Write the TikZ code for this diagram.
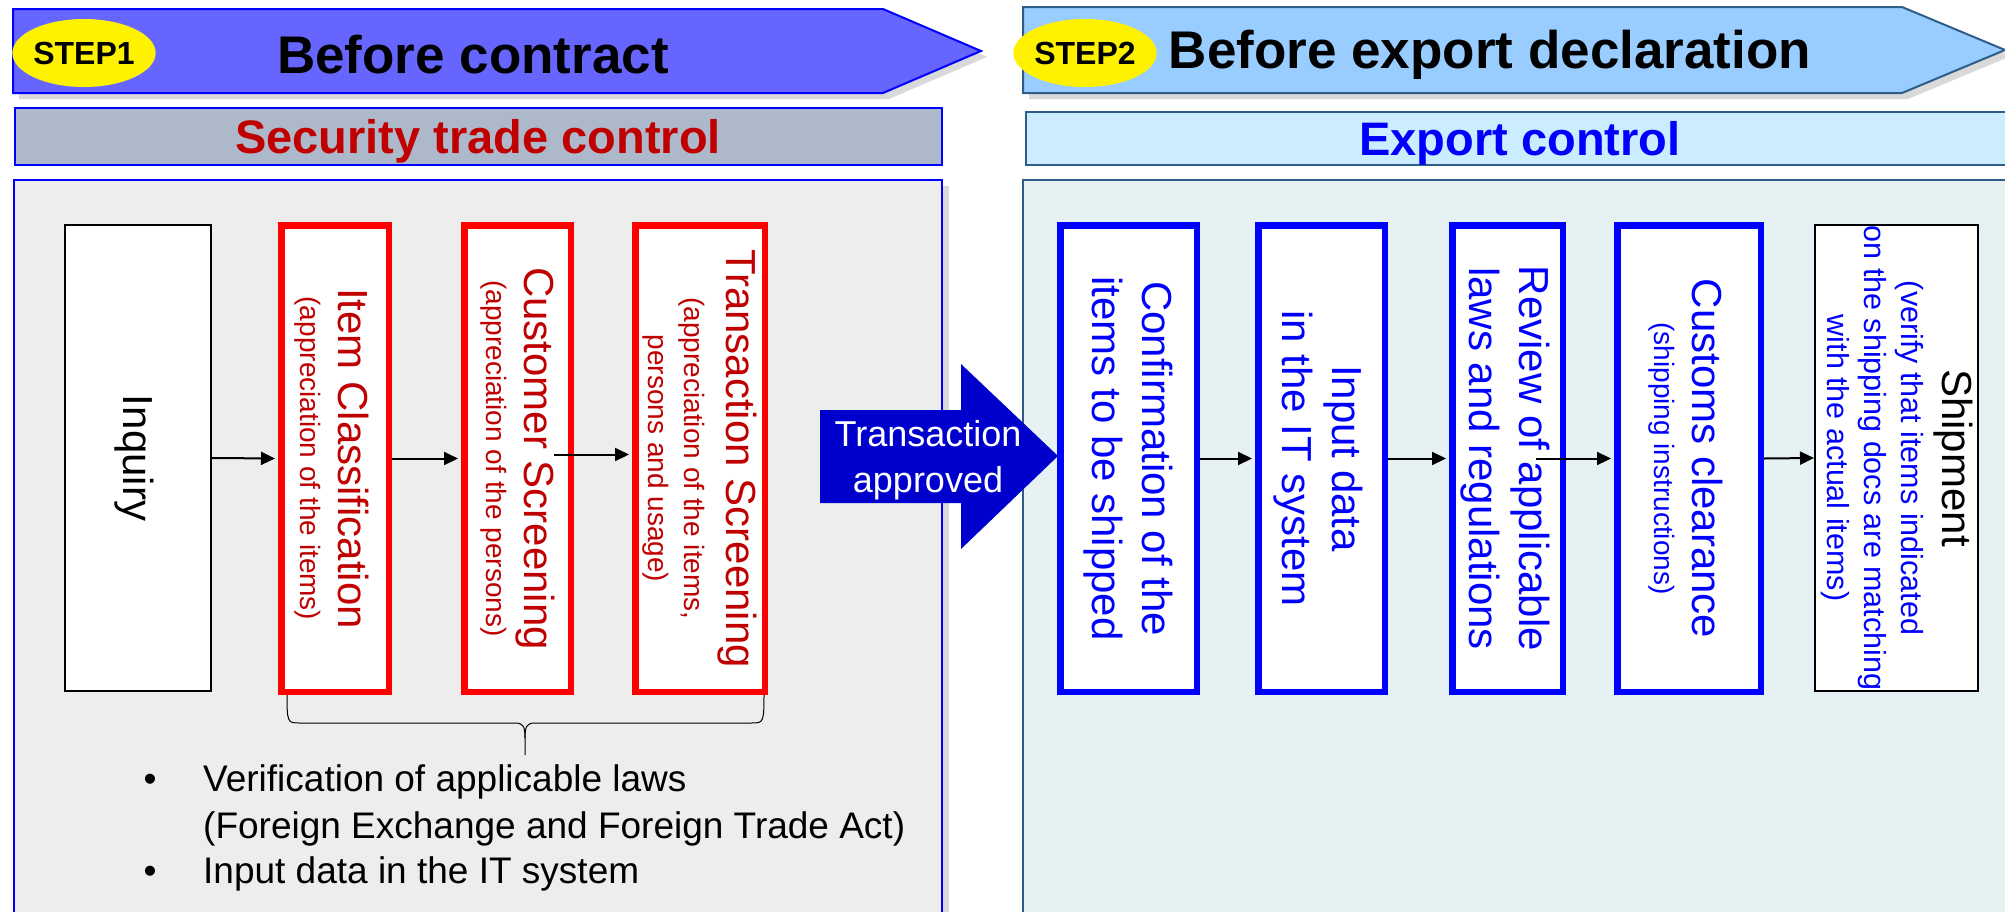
\documentclass[tikz,border=0pt]{standalone}
\usepackage{fontspec}
\setmainfont{Liberation Sans}
\usetikzlibrary{arrows.meta,shapes.geometric}

\definecolor{shadowgray}{HTML}{D9D9D9}
\definecolor{stepone}{HTML}{6666FF}
\definecolor{steptwo}{HTML}{99CCFF}
\definecolor{slate}{HTML}{2F5D8A}
\definecolor{secbar}{HTML}{ADB9CA}
\definecolor{expbar}{HTML}{CCECFF}
\definecolor{leftpanel}{HTML}{EDEDED}
\definecolor{rightpanel}{HTML}{E6F1F4}
\definecolor{boxred}{HTML}{FF0000}
\definecolor{dred}{HTML}{C00000}
\definecolor{boxblue}{HTML}{0000FF}
\definecolor{approve}{HTML}{0000CC}

\newcommand\mainsz{\fontsize{42}{42}\selectfont}
\newcommand\subsz{\fontsize{28}{28}\selectfont}
\newcommand\shipsz{\fontsize{30.5}{30.5}\selectfont}

\tikzset{
  box/.style={draw, fill=white, minimum height=466.5pt, inner sep=0pt, line width=6.5pt},
  redbox/.style={box, draw=boxred},
  bluebox/.style={box, draw=boxblue},
  thinbox/.style={draw=black, fill=white, line width=2pt, minimum height=466pt, inner sep=0pt},
  lbl/.style={rotate=-90, align=center, inner sep=0pt, font=\fontsize{28}{#1}\selectfont},
  flow/.style={draw=black, line width=2pt, -{Triangle[length=14pt,width=13pt]}},
  stepmark/.style={ellipse, fill=yellow, minimum width=104pt, minimum height=68pt,
    inner sep=0pt, font=\fontsize{32}{32}\selectfont\bfseries},
  banner/.style={font=\fontsize{53}{53}\selectfont\bfseries, inner sep=0pt},
  bartext/.style={font=\fontsize{47}{47}\selectfont\bfseries, inner sep=0pt},
  bullettext/.style={anchor=base west, inner sep=0pt, font=\fontsize{37}{46}\selectfont},
  bulletdot/.style={anchor=base, inner sep=0pt, font=\fontsize{37}{46}\selectfont},
}

\begin{document}
\begin{tikzpicture}[x=1pt,y=-1pt]
\useasboundingbox (0,0) rectangle (2005,911);
\clip (0,0) rectangle (2005,911);

% ---- step banners ----
\fill[shadowgray] (19,15) -- (889,15) -- (987,57) -- (889,99) -- (19,99) -- cycle;
\draw[fill=stepone, draw=boxblue, line width=2pt]
  (13,9) -- (883,9) -- (981,51) -- (883,93) -- (13,93) -- cycle;
\fill[shadowgray] (1029,13) -- (1908,13) -- (2011,56) -- (1908,99) -- (1029,99) -- cycle;
\draw[fill=steptwo, draw=slate, line width=2pt]
  (1023,7) -- (1902,7) -- (2005,50) -- (1902,93) -- (1023,93) -- cycle;

\node[stepmark] (s1) at (84,53) {STEP1};
\node[stepmark] (s2) at (1085,53) {STEP2};
\node[banner] (t1) at (473,55) {Before contract};
\node[banner] (t2) at (1490,55) {Before export declaration};

% ---- control bars ----
\draw[fill=secbar, draw=boxblue, line width=2pt] (15,108) rectangle (942,165);
\node[bartext, text=dred] (sec) at (478,141) {Security trade control};
\draw[fill=expbar, draw=slate, line width=2pt] (1026,112) rectangle (2030,165);
\node[bartext, text=boxblue] (exp) at (1520,143) {Export control};

% ---- panels ----
\fill[shadowgray] (20,186) rectangle (949,940);
\draw[fill=leftpanel, draw=boxblue, line width=2pt] (14,180) rectangle (942,940);
\draw[fill=rightpanel, draw=slate, line width=2pt] (1023,180) rectangle (2030,940);

% ---- brace below the three screening steps ----
\draw[line width=1pt]
  (287,690) .. controls (287,723) and (287,723) .. (300,723) -- (515,723)
  .. controls (523,723) and (525,726) .. (525,738) -- (525,755);
\draw[line width=1pt]
  (525,738) .. controls (525,726) and (527,723) .. (535,723) -- (751,723)
  .. controls (764,723) and (764,723) .. (764,690);

% ---- step 1 boxes ----
\node[thinbox, minimum width=146pt] (inq) at (138,458) {};
\node[redbox, minimum width=107.5pt] (item) at (335,458.5) {};
\node[redbox, minimum width=106.5pt] (cust) at (517.5,458.5) {};
\node[redbox, minimum width=129.5pt] (trans) at (700,458.5) {};

\node[lbl=40, font=\mainsz] (inqt) at ([xshift=-4pt]inq.center) {Inquiry};
\node[lbl=38, text=dred] (itemt) at ([xshift=-3pt]item.center)
  {{\mainsz Item Classification}\\{\subsz (appreciation of the items)}};
\node[lbl=38, text=dred] (custt) at (cust.center)
  {{\mainsz Customer Screening}\\{\subsz (appreciation of the persons)}};
\node[lbl=36, text=dred] (transt) at (trans.center)
  {{\mainsz Transaction Screening}\\[6pt]{\subsz (appreciation of the items,}\\{\subsz persons and usage)}};

% ---- step 2 boxes ----
\node[bluebox, minimum width=136.5pt] (conf) at (1128.5,458.5) {};
\node[bluebox, minimum width=126.5pt] (input) at (1321.5,458.5) {};
\node[bluebox, minimum width=110.5pt] (review) at (1507.5,458.5) {};
\node[bluebox, minimum width=143.5pt] (customs) at (1689,458.5) {};
\node[thinbox, minimum width=163pt] (ship) at (1896.5,458) {};

\node[lbl=50, text=boxblue] (conft) at (conf.center)
  {{\mainsz Confirmation of the}\\{\mainsz items to be shipped}};
\node[lbl=50, text=boxblue] (inputt) at ([xshift=-3pt]input.center)
  {{\mainsz Input data}\\{\mainsz in the IT system}};
\node[lbl=50, text=boxblue] (reviewt) at ([xshift=-2pt]review.center)
  {{\mainsz Review of applicable}\\{\mainsz laws and regulations}};
\node[lbl=38, text=boxblue] (customst) at ([xshift=-3pt]customs.center)
  {{\mainsz Customs clearance}\\{\subsz (shipping instructions)}};
\node[lbl=37, text=boxblue] (shipt) at ([xshift=1pt]ship.center)
  {{\mainsz\color{black} Shipment}\\[4pt]{\shipsz (verify that items indicated}\\{\shipsz on the shipping docs are matching}\\{\shipsz with the actual items)}};

% ---- transaction approved arrow ----
\fill[approve] (820,410) -- (961,410) -- (961,364) -- (1058,456) -- (961,549)
  -- (961,503) -- (820,503) -- cycle;
\node[text=white, align=center, inner sep=0pt, font=\fontsize{36}{46}\selectfont]
  (appr) at (928,460) {Transaction\\approved};

% ---- flow connectors ----
\draw[flow, shorten >=3pt] (inq.east) -- (item.west);
\draw[flow, shorten >=3pt] (item.east) -- (cust.west);
\draw[flow, shorten >=3pt] ([xshift=-20pt,yshift=4pt]cust.east) -- ([yshift=4pt]trans.west);
\draw[flow, shorten >=3pt] (conf.east) -- (input.west);
\draw[flow, shorten >=3pt] (input.east) -- (review.west);
\draw[flow, shorten >=3pt] ([xshift=-30pt]review.east) -- (customs.west);
\draw[flow] (customs.east) -- (ship.west);

% ---- notes ----
\node[bulletdot] (d1) at (150,791) {\textbullet};
\node[bullettext] (n1) at (203,791) {Verification of applicable laws};
\node[bullettext] (n2) at (203,838) {(Foreign Exchange and Foreign Trade Act)};
\node[bulletdot] (d3) at (150,883) {\textbullet};
\node[bullettext] (n3) at (203,883) {Input data in the IT system};
\end{tikzpicture}
\end{document}
